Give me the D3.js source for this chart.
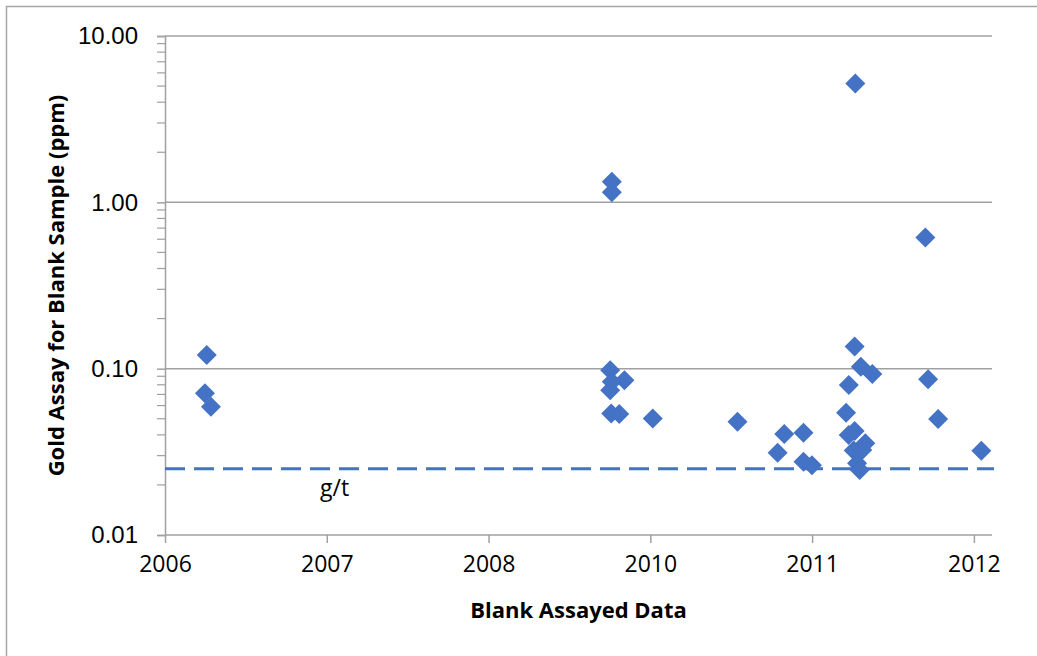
<!DOCTYPE html>
<html>
<head>
<meta charset="utf-8">
<script src="https://cdn.jsdelivr.net/npm/d3@7"></script>
<style>
	body { margin: 0; background: #fff; }
</style>
</head>
<body>
<div id="chart_container"></div>
<script>

// x positions are in axis tick units (0 = first tick, 5 = last tick)
const tickLabels = ['2006', '2007', '2008', '2010', '2011', '2012']

const sampleX = [0.258, 0.247, 0.284,
	2.762, 2.762, 2.752, 2.840, 2.762, 2.752, 2.758, 2.808, 3.015,
	3.539, 3.828, 3.947, 3.787, 3.947, 3.999, 4.267,
	4.263, 4.301, 4.372, 4.227, 4.210, 4.263, 4.226, 4.329, 4.257, 4.310, 4.278, 4.294,
	4.700, 4.717, 4.779, 5.046]

const goldPpm = [0.121, 0.0711, 0.059,
	1.33, 1.15, 0.098, 0.0853, 0.0834, 0.0743, 0.0538, 0.0534, 0.0501,
	0.048, 0.0405, 0.0412, 0.0312, 0.0276, 0.0263, 5.18,
	0.136, 0.1026, 0.0928, 0.0797, 0.0543, 0.0422, 0.0399, 0.0356, 0.0322, 0.0324, 0.027, 0.0246,
	0.615, 0.0863, 0.0498, 0.0321]

const yTicks = [0.01, 0.1, 1, 10]
const detectionLimit = 0.025
const limitLabel = 'g/t'

const width = 1037
const height = 656

const svg = d3.select('#chart_container')
	.append('svg')
	.attr('width', width)
	.attr('height', height)

svg.append('rect')
	.attr('x', 6.5)
	.attr('y', 6.5)
	.attr('width', width + 10)
	.attr('height', height + 10)
	.attr('fill', '#fff')
	.attr('stroke', '#a6a6a6')
	.attr('stroke-width', 1.5)

let plotLeft = 165
let plotRight = 992
let plotTop = 36
let plotBottom = 535

let xScale = d3.scaleLinear()
	.domain([0, 5.112])
	.range([plotLeft, plotRight])

let yScale = d3.scaleLog()
	.domain([0.01, 10])
	.range([plotBottom, plotTop])

// gridlines
svg.selectAll('gridLines')
	.data(yTicks.slice(1))
	.enter()
	.append('line')
	.attr('x1', plotLeft)
	.attr('x2', plotRight)
	.attr('y1', d => yScale(d))
	.attr('y2', d => yScale(d))
	.attr('stroke', '#a0a0a0')
	.attr('stroke-width', 1.5)

// minor ticks on log axis
let minorTicks = yScale.ticks().filter(d => yTicks.indexOf(d) < 0)

svg.selectAll('minorTicks')
	.data(minorTicks)
	.enter()
	.append('line')
	.attr('x1', plotLeft - 8)
	.attr('x2', plotLeft)
	.attr('y1', d => yScale(d))
	.attr('y2', d => yScale(d))
	.attr('stroke', '#a0a0a0')
	.attr('stroke-width', 1.2)

let yAxis = d3.axisLeft(yScale)
	.tickValues(yTicks)
	.tickFormat(d3.format('.2f'))
	.tickSize(8)
	.tickPadding(19)

let yG = svg.append('g')
	.attr('transform', `translate(${plotLeft},0)`)
	.call(yAxis)

yG.select('.domain').attr('stroke', '#a0a0a0').attr('stroke-width', 1.5)
yG.selectAll('.tick line').attr('stroke', '#a0a0a0').attr('stroke-width', 1.5)
yG.selectAll('.tick text')
	.attr('fill', '#000')
	.style('font-family', '"Liberation Sans", Arial, sans-serif')
	.style('font-size', '24px')

let xAxis = d3.axisBottom(xScale)
	.tickValues(d3.range(tickLabels.length))
	.tickFormat(i => tickLabels[i])
	.tickSize(8)
	.tickPadding(13)

let xG = svg.append('g')
	.attr('transform', `translate(0,${plotBottom})`)
	.call(xAxis)

xG.select('.domain').attr('stroke', '#a0a0a0').attr('stroke-width', 1.5).attr('d', `M${plotLeft},0H${plotRight}`)
xG.selectAll('.tick line').attr('stroke', '#a0a0a0').attr('stroke-width', 1.5)
xG.selectAll('.tick text')
	.attr('fill', '#000')
	.style('font-family', '"Open Sans", sans-serif')
	.style('font-size', '23px')

// detection limit line
svg.append('line')
	.attr('x1', plotLeft)
	.attr('x2', plotRight + 2)
	.attr('y1', yScale(detectionLimit))
	.attr('y2', yScale(detectionLimit))
	.attr('stroke', '#4472c4')
	.attr('stroke-width', 3)
	.attr('stroke-dasharray', '20,9')

svg.append('text')
	.attr('x', 320)
	.attr('y', yScale(detectionLimit) + 27)
	.text(limitLabel)
	.style('font-family', '"Open Sans", sans-serif')
	.style('font-size', '23px')
	.attr('fill', '#000')

let points = sampleX.map((x, i) => ({x: x, v: goldPpm[i]}))

svg.selectAll('samples')
	.data(points)
	.enter()
	.append('path')
	.attr('d', d3.symbol().type(d3.symbolSquare).size(200))
	.attr('transform', d => `translate(${xScale(d.x)},${yScale(d.v)}) rotate(45)`)
	.attr('fill', '#4472c4')

svg.append('text')
	.attr('x', (plotLeft + plotRight) / 2)
	.attr('y', 618)
	.attr('text-anchor', 'middle')
	.text('Blank Assayed Data')
	.style('font-family', '"Open Sans", sans-serif')
	.style('font-weight', 'bold')
	.style('font-size', '22px')
	.attr('fill', '#000')

svg.append('text')
	.attr('transform', `translate(64,${(plotTop + plotBottom) / 2}) rotate(-90)`)
	.attr('text-anchor', 'middle')
	.text('Gold Assay for Blank Sample (ppm)')
	.style('font-family', '"Open Sans", sans-serif')
	.style('font-weight', 'bold')
	.style('font-size', '22px')
	.attr('fill', '#000')

</script>
</body>
</html>
